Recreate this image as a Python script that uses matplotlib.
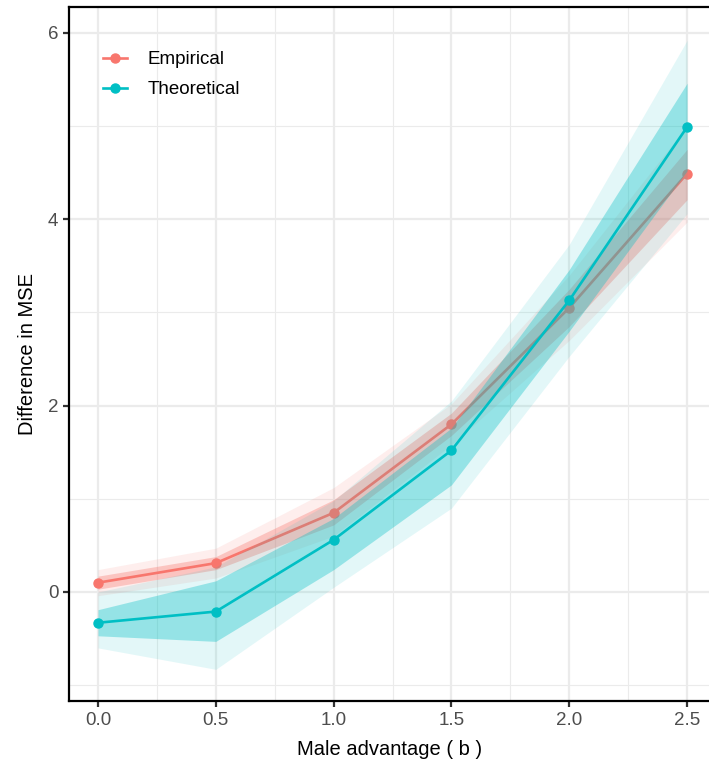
import numpy as np
import matplotlib.pyplot as plt
from matplotlib.ticker import MultipleLocator

plt.rcParams['font.family'] = ['Liberation Sans', 'DejaVu Sans']

b = [0.0, 0.5, 1.0, 1.5, 2.0, 2.5]

emp = [0.10, 0.31, 0.85, 1.80, 3.05, 4.49]
emp_in_lo = [0.03, 0.24, 0.72, 1.68, 2.85, 4.21]
emp_in_hi = [0.17, 0.38, 0.99, 1.92, 3.25, 4.75]
emp_out_lo = [-0.04, 0.15, 0.60, 1.58, 2.70, 3.97]
emp_out_hi = [0.24, 0.47, 1.12, 2.02, 3.40, 5.00]

theo = [-0.33, -0.21, 0.56, 1.52, 3.13, 4.99]
theo_in_lo = [-0.47, -0.53, 0.24, 1.15, 2.80, 4.52]
theo_in_hi = [-0.19, 0.12, 0.79, 1.76, 3.46, 5.46]
theo_out_lo = [-0.60, -0.83, 0.05, 0.90, 2.53, 4.06]
theo_out_hi = [0.00, 0.27, 0.98, 2.05, 3.73, 5.92]

red = "#F8766D"
teal = "#00BFC4"

fig = plt.figure(figsize=(7.09, 7.69), dpi=100)
ax = fig.add_axes([0.098, 0.0884, 0.902, 0.9026])

# empirical first, theoretical drawn over it
ax.fill_between(b, emp_out_lo, emp_out_hi, color=red, alpha=0.12, lw=0, zorder=2)
ax.fill_between(b, emp_in_lo, emp_in_hi, color=red, alpha=0.35, lw=0, zorder=2)
ax.plot(b, emp, color=red, lw=1.9, marker="o", ms=6.5, label="Empirical", zorder=3)

ax.fill_between(b, theo_out_lo, theo_out_hi, color=teal, alpha=0.11, lw=0, zorder=4)
ax.fill_between(b, theo_in_lo, theo_in_hi, color=teal, alpha=0.34, lw=0, zorder=4)
ax.plot(b, theo, color=teal, lw=1.9, marker="o", ms=6.5, label="Theoretical", zorder=5)

ax.set_xlim(-0.121, 2.593)
ax.set_ylim(-1.17, 6.279)

ax.xaxis.set_minor_locator(MultipleLocator(0.25))
ax.yaxis.set_major_locator(MultipleLocator(2))
ax.yaxis.set_minor_locator(MultipleLocator(1))
ax.set_xticks([0.0, 0.5, 1.0, 1.5, 2.0, 2.5])
ax.set_xticklabels(["0.0", "0.5", "1.0", "1.5", "2.0", "2.5"])

ax.grid(which="major", color="#EBEBEB", lw=1.6, zorder=0)
ax.grid(which="minor", color="#EBEBEB", lw=0.8, zorder=0)
ax.set_axisbelow(True)

ax.tick_params(which="major", length=4, width=1.6, color="#333333",
               labelsize=13.5, labelcolor="#4D4D4D", pad=4)
ax.tick_params(which="minor", length=0)

for side in ["left", "bottom", "top"]:
    ax.spines[side].set_color("black")
    ax.spines[side].set_linewidth(1.6)
ax.spines["right"].set_visible(False)

ax.set_xlabel("Male advantage ( b )", fontsize=14.5, color="black", labelpad=8)
ax.set_ylabel("Difference in MSE", fontsize=14.5, color="black", labelpad=8)

ax.legend(loc="upper left", frameon=False, fontsize=13.5, handlelength=1.3,
          borderaxespad=0.8, bbox_to_anchor=(0.017, 0.969), labelspacing=0.7,
          handletextpad=1.1)

fig.savefig("out.png", dpi=100)
